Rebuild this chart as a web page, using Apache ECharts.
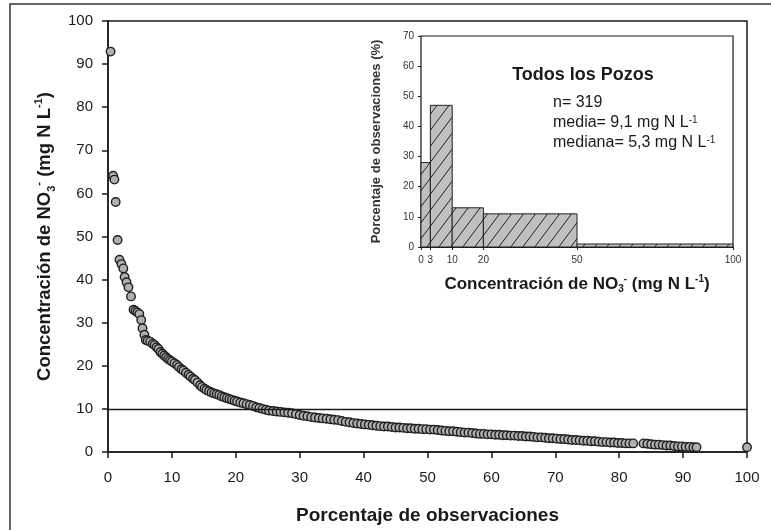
<!DOCTYPE html>
<html>
<head>
<meta charset="utf-8">
<script src="https://cdn.jsdelivr.net/npm/echarts@6/dist/echarts.min.js"></script>
<style>
  html, body { margin: 0; padding: 0; background: #fff; }
  #main { width: 771px; height: 530px; }
</style>
</head>
<body>
<div id="main"></div>
<script>
var obsPct = [0.4, 0.8, 1.0, 1.2, 1.5, 1.8, 2.1, 2.4, 2.6, 2.9, 3.2, 3.6, 4.0, 4.3, 4.6, 4.9, 5.2, 5.4, 5.7, 5.9,
  6.2, 6.6, 7.0, 7.3, 7.6, 7.9, 8.2, 8.5, 8.8, 9.1, 9.4, 9.7, 10.0, 10.4, 10.8, 11.1, 11.5, 11.8, 12.2, 12.6,
  12.9, 13.3, 13.6, 14.0, 14.4, 14.7, 15.1, 15.4, 15.8, 16.2, 16.6, 17.0, 17.4, 17.8, 18.2, 18.6, 19.0, 19.4, 19.8, 20.2,
  20.7, 21.2, 21.7, 22.2, 22.7, 23.2, 23.7, 24.2, 24.7, 25.2, 25.8, 26.4, 27.0, 27.6, 28.2, 28.8, 29.4, 30.0, 30.6, 31.2,
  31.8, 32.4, 33.0, 33.6, 34.2, 34.8, 35.4, 36.0, 36.6, 37.2, 37.8, 38.4, 39.0, 39.6, 40.2, 40.8, 41.4, 42.0, 42.6, 43.2,
  43.8, 44.4, 45.0, 45.6, 46.2, 46.8, 47.4, 48.0, 48.6, 49.2, 49.8, 50.4, 51.0, 51.6, 52.2, 52.8, 53.4, 54.0, 54.6, 55.2,
  55.8, 56.4, 57.0, 57.6, 58.2, 58.8, 59.4, 60.0, 60.6, 61.2, 61.8, 62.4, 63.0, 63.6, 64.2, 64.8, 65.4, 66.0, 66.6, 67.2,
  67.8, 68.4, 69.0, 69.6, 70.2, 70.8, 71.4, 72.0, 72.6, 73.2, 73.8, 74.4, 75.0, 75.6, 76.2, 76.8, 77.4, 78.0, 78.6, 79.2,
  79.8, 80.4, 81.0, 81.6, 82.2, 83.8, 84.4, 85.0, 85.6, 86.2, 86.8, 87.4, 88.0, 88.6, 89.2, 89.8, 90.4, 91.0, 91.6, 92.1,
  100];
var no3Conc = [92.9, 64.1, 63.2, 58.0, 49.2, 44.6, 43.6, 42.6, 40.6, 39.4, 38.2, 36.1, 33.0, 32.7, 32.4, 32.0, 30.6, 28.7, 27.2, 26.0,
  25.8, 25.6, 25.1, 24.8, 24.3, 23.9, 23.2, 22.8, 22.4, 22.0, 21.6, 21.3, 21.0, 20.6, 20.2, 19.7, 19.2, 18.9, 18.4, 17.9,
  17.5, 17.0, 16.7, 16.1, 15.5, 15.1, 14.7, 14.4, 14.1, 13.8, 13.6, 13.4, 13.2, 12.9, 12.7, 12.5, 12.3, 12.1, 11.9, 11.7,
  11.5, 11.3, 11.1, 10.9, 10.7, 10.4, 10.2, 10.0, 9.8, 9.6, 9.5, 9.4, 9.3, 9.2, 9.1, 9.0, 8.8, 8.6, 8.4, 8.3,
  8.1, 8.0, 7.9, 7.8, 7.7, 7.6, 7.5, 7.4, 7.2, 7.0, 6.9, 6.7, 6.6, 6.5, 6.4, 6.3, 6.2, 6.1, 6.0, 5.9,
  5.9, 5.8, 5.7, 5.7, 5.6, 5.5, 5.5, 5.4, 5.4, 5.3, 5.3, 5.2, 5.2, 5.1, 5.0, 4.9, 4.8, 4.8, 4.7, 4.6,
  4.5, 4.5, 4.4, 4.3, 4.2, 4.2, 4.1, 4.1, 4.0, 4.0, 3.9, 3.9, 3.8, 3.8, 3.7, 3.7, 3.6, 3.6, 3.5, 3.4,
  3.4, 3.3, 3.2, 3.2, 3.1, 3.0, 3.0, 2.9, 2.8, 2.8, 2.7, 2.6, 2.6, 2.5, 2.5, 2.4, 2.3, 2.3, 2.2, 2.2,
  2.1, 2.1, 2.0, 2.0, 2.0, 2.0, 1.9, 1.8, 1.7, 1.7, 1.6, 1.5, 1.5, 1.4, 1.3, 1.3, 1.2, 1.2, 1.1, 1.1,
  1.1];
var limitNO3 = 10;

// histogram (inset)
var binEdges = [0, 3, 10, 20, 50, 100];
var binPct = [28, 47, 13, 11, 1];
var nObs = 319;
var meanNO3 = '9,1';
var medianNO3 = '5,3';

var FONT = 'Liberation Sans, Arial, sans-serif';
var INK = '#1a1a1a';

// hatch pattern for the bars
function makeHatch() {
  var c = document.createElement('canvas');
  c.width = 12;
  c.height = 16;
  var ctx = c.getContext('2d');
  ctx.fillStyle = '#c0c0c0';
  ctx.fillRect(0, 0, 12, 16);
  ctx.strokeStyle = '#222';
  ctx.lineWidth = 1;
  ctx.beginPath();
  ctx.moveTo(-12, 16); ctx.lineTo(0, 0);
  ctx.moveTo(0, 16); ctx.lineTo(12, 0);
  ctx.moveTo(12, 16); ctx.lineTo(24, 0);
  ctx.stroke();
  return c;
}
var hatch = { image: makeHatch(), repeat: 'repeat' };

var scatterData = obsPct.map(function (p, i) { return [p, no3Conc[i]]; });
var histData = binPct.map(function (v, i) { return [binEdges[i], binEdges[i + 1], v]; });

var chart = echarts.init(document.getElementById('main'));

chart.setOption({
  animation: false,
  backgroundColor: '#fff',
  textStyle: { fontFamily: FONT },
  grid: [
    { left: 108, top: 21, right: 24, bottom: 76, show: true, borderColor: INK, borderWidth: 1.5 },
    { left: 421, top: 36, width: 312, height: 211, show: true, borderColor: INK, borderWidth: 1.2, backgroundColor: '#fff', z: 5 }
  ],
  xAxis: [
    {
      gridIndex: 0, type: 'value', min: 0, max: 100, interval: 10,
      axisLine: { lineStyle: { color: INK, width: 1.5 } },
      axisTick: { length: 6, lineStyle: { color: INK, width: 1.5 } },
      axisLabel: { fontSize: 15, color: INK, margin: 18, fontFamily: FONT },
      splitLine: { show: false },
      name: 'Porcentaje de observaciones',
      nameLocation: 'middle', nameGap: 54,
      nameTextStyle: { fontSize: 19, fontWeight: 'bold', color: INK, fontFamily: FONT }
    },
    {
      gridIndex: 1, type: 'value', min: 0, max: 100,
      axisLine: { lineStyle: { color: INK, width: 1.2 } },
      axisTick: { length: 3, customValues: binEdges, lineStyle: { color: INK } },
      axisLabel: { fontSize: 10, color: '#333', margin: 8, customValues: binEdges, fontFamily: FONT },
      splitLine: { show: false },
      name: 'Concentración de NO{sub|3}{sup|-} (mg N L{sup|-1})',
      nameLocation: 'middle', nameGap: 27,
      nameTextStyle: {
        fontSize: 17, fontWeight: 'bold', color: INK, fontFamily: FONT, lineHeight: 20,
        rich: {
          sub: { fontSize: 10, fontWeight: 'bold', color: INK, fontFamily: FONT, verticalAlign: 'bottom', lineHeight: 20 },
          sup: { fontSize: 10, fontWeight: 'bold', color: INK, fontFamily: FONT, verticalAlign: 'top', lineHeight: 20 }
        }
      }
    }
  ],
  yAxis: [
    {
      gridIndex: 0, type: 'value', min: 0, max: 100, interval: 10,
      axisLine: { show: true, lineStyle: { color: INK, width: 1.5 } },
      axisTick: { show: true, length: 6, lineStyle: { color: INK, width: 1.5 } },
      axisLabel: { fontSize: 15, color: INK, margin: 15, fontFamily: FONT },
      splitLine: { show: false },
      name: 'Concentración de NO{sub|3}{sup|-} (mg N L{sup|-1})',
      nameLocation: 'middle', nameGap: 50,
      nameTextStyle: {
        fontSize: 18.5, fontWeight: 'bold', color: INK, fontFamily: FONT, lineHeight: 24,
        rich: {
          sub: { fontSize: 11, fontWeight: 'bold', color: INK, fontFamily: FONT, verticalAlign: 'bottom', lineHeight: 24 },
          sup: { fontSize: 11, fontWeight: 'bold', color: INK, fontFamily: FONT, verticalAlign: 'top', lineHeight: 24 }
        }
      }
    },
    {
      gridIndex: 1, type: 'value', min: 0, max: 70, interval: 10,
      axisLine: { show: true, lineStyle: { color: INK, width: 1.2 } },
      axisTick: { show: true, length: 3, lineStyle: { color: INK } },
      axisLabel: { fontSize: 10, color: '#333', margin: 7, fontFamily: FONT },
      splitLine: { show: false },
      name: 'Porcentaje de observaciones (%)',
      nameLocation: 'middle', nameGap: 38,
      nameTextStyle: { fontSize: 13, fontWeight: 'bold', color: '#333', fontFamily: FONT }
    }
  ],
  series: [
    {
      type: 'scatter',
      xAxisIndex: 0, yAxisIndex: 0,
      data: scatterData,
      symbol: 'circle',
      symbolSize: 8.5,
      itemStyle: { color: '#b0b0b0', borderColor: '#1e1e1e', borderWidth: 1.4, opacity: 1 },
      markLine: {
        silent: true,
        symbol: ['none', 'none'],
        label: { show: false },
        lineStyle: { color: INK, type: 'solid', width: 1.3 },
        data: [{ yAxis: limitNO3 }]
      }
    },
    {
      type: 'custom',
      xAxisIndex: 1, yAxisIndex: 1,
      z: 6,
      data: histData,
      encode: { x: [0, 1], y: 2 },
      renderItem: function (params, api) {
        var topLeft = api.coord([api.value(0), api.value(2)]);
        var bottomRight = api.coord([api.value(1), 0]);
        return {
          type: 'rect',
          shape: { x: topLeft[0], y: topLeft[1], width: bottomRight[0] - topLeft[0], height: bottomRight[1] - topLeft[1] },
          style: { fill: hatch, stroke: '#222', lineWidth: 1 }
        };
      }
    }
  ],
  graphic: [
    { type: 'rect', shape: { x: 10, y: 4, width: 800, height: 600 }, style: { fill: null, stroke: '#333', lineWidth: 1.5 }, z: -10, silent: true },
    { type: 'text', z: 20, style: { x: 583, y: 75, text: 'Todos los Pozos', align: 'center', verticalAlign: 'middle', font: 'bold 18px ' + FONT, fill: INK } },
    { type: 'text', z: 20, style: { x: 553, y: 103, text: 'n= ' + nObs, verticalAlign: 'middle', font: '16px ' + FONT, fill: INK } },
    { type: 'text', z: 20, style: {
      x: 553, y: 123, text: 'media= ' + meanNO3 + ' mg N L{sup|-1}', verticalAlign: 'middle', font: '16px ' + FONT, fill: INK,
      rich: { sup: { fontSize: 10, fontFamily: FONT, fill: INK, verticalAlign: 'top' } } } },
    { type: 'text', z: 20, style: {
      x: 553, y: 143, text: 'mediana= ' + medianNO3 + ' mg N L{sup|-1}', verticalAlign: 'middle', font: '16px ' + FONT, fill: INK,
      rich: { sup: { fontSize: 10, fontFamily: FONT, fill: INK, verticalAlign: 'top' } } } }
  ]
});
</script>
</body>
</html>
